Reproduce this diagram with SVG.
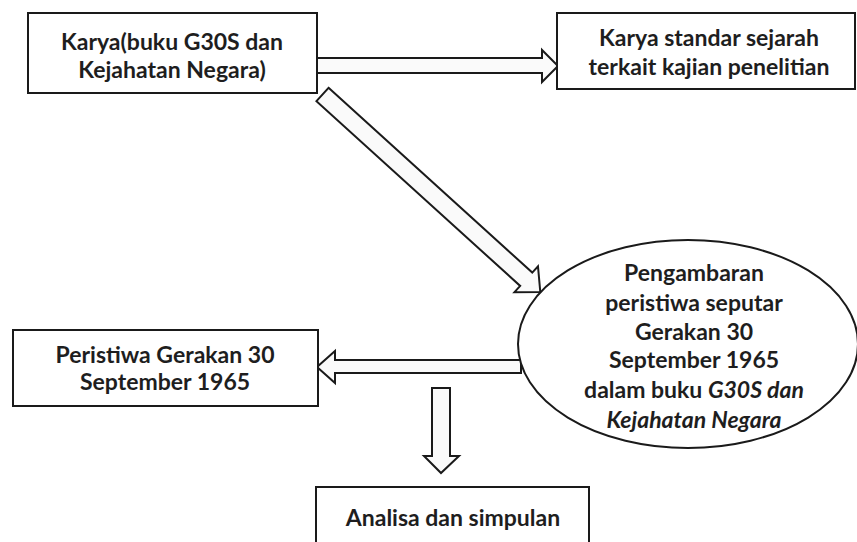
<svg xmlns="http://www.w3.org/2000/svg" width="857" height="542" viewBox="0 0 857 542">
<style>
.box{fill:#ffffff;stroke:#1a1a1a;stroke-width:2}
.arr{fill:#fafafa;stroke:#1a1a1a;stroke-width:2;stroke-linejoin:miter}
text{font-family:Lato,"Open Sans","Liberation Sans",sans-serif;font-weight:bold;font-size:23px;fill:#1e1e1e;text-anchor:middle}
.it{font-style:italic}
</style>
<rect width="857" height="542" fill="#ffffff"/>
<g id="connectors">
<path class="arr" d="M317,58 H542 V50 L558,66 L542,82 V73 H317 Z"/>
<path class="arr" transform="translate(322.5,94.5) rotate(42.2)" d="M0,-9 H275 V-17.5 L294,0 L275,17.5 V9 H0 Z"/>
<path class="arr" d="M521,360 H335 V351 L317,367 L335,383 V373 H521 Z"/>
<path class="arr" d="M432,388 H450 V456 H459 L441,473 L424,456 H432 Z"/>
</g>
<g id="node-karya">
<rect class="box" x="28" y="13" width="289" height="80"/>
<text x="172" y="50">Karya(buku G30S dan</text>
<text x="172" y="78">Kejahatan Negara)</text>
</g>
<g id="node-standar">
<rect class="box" x="557" y="13" width="298" height="76"/>
<text x="709" y="46">Karya standar sejarah</text>
<text x="709" y="75">terkait kajian penelitian</text>
</g>
<g id="node-pengambaran">
<ellipse class="box" cx="688" cy="344" rx="170" ry="104"/>
<text x="694" y="281">Pengambaran</text>
<text x="694" y="311">peristiwa seputar</text>
<text x="694" y="340">Gerakan 30</text>
<text x="694" y="368">September 1965</text>
<text x="694" y="398">dalam buku <tspan class="it">G30S dan</tspan></text>
<text x="694" y="428" class="it">Kejahatan Negara</text>
</g>
<g id="node-peristiwa">
<rect class="box" x="13" y="330" width="305" height="76"/>
<text x="165" y="363">Peristiwa Gerakan 30</text>
<text x="165" y="390">September 1965</text>
</g>
<g id="node-analisa">
<rect class="box" x="316" y="487" width="273" height="70"/>
<text x="453" y="526">Analisa dan simpulan</text>
</g>
</svg>
